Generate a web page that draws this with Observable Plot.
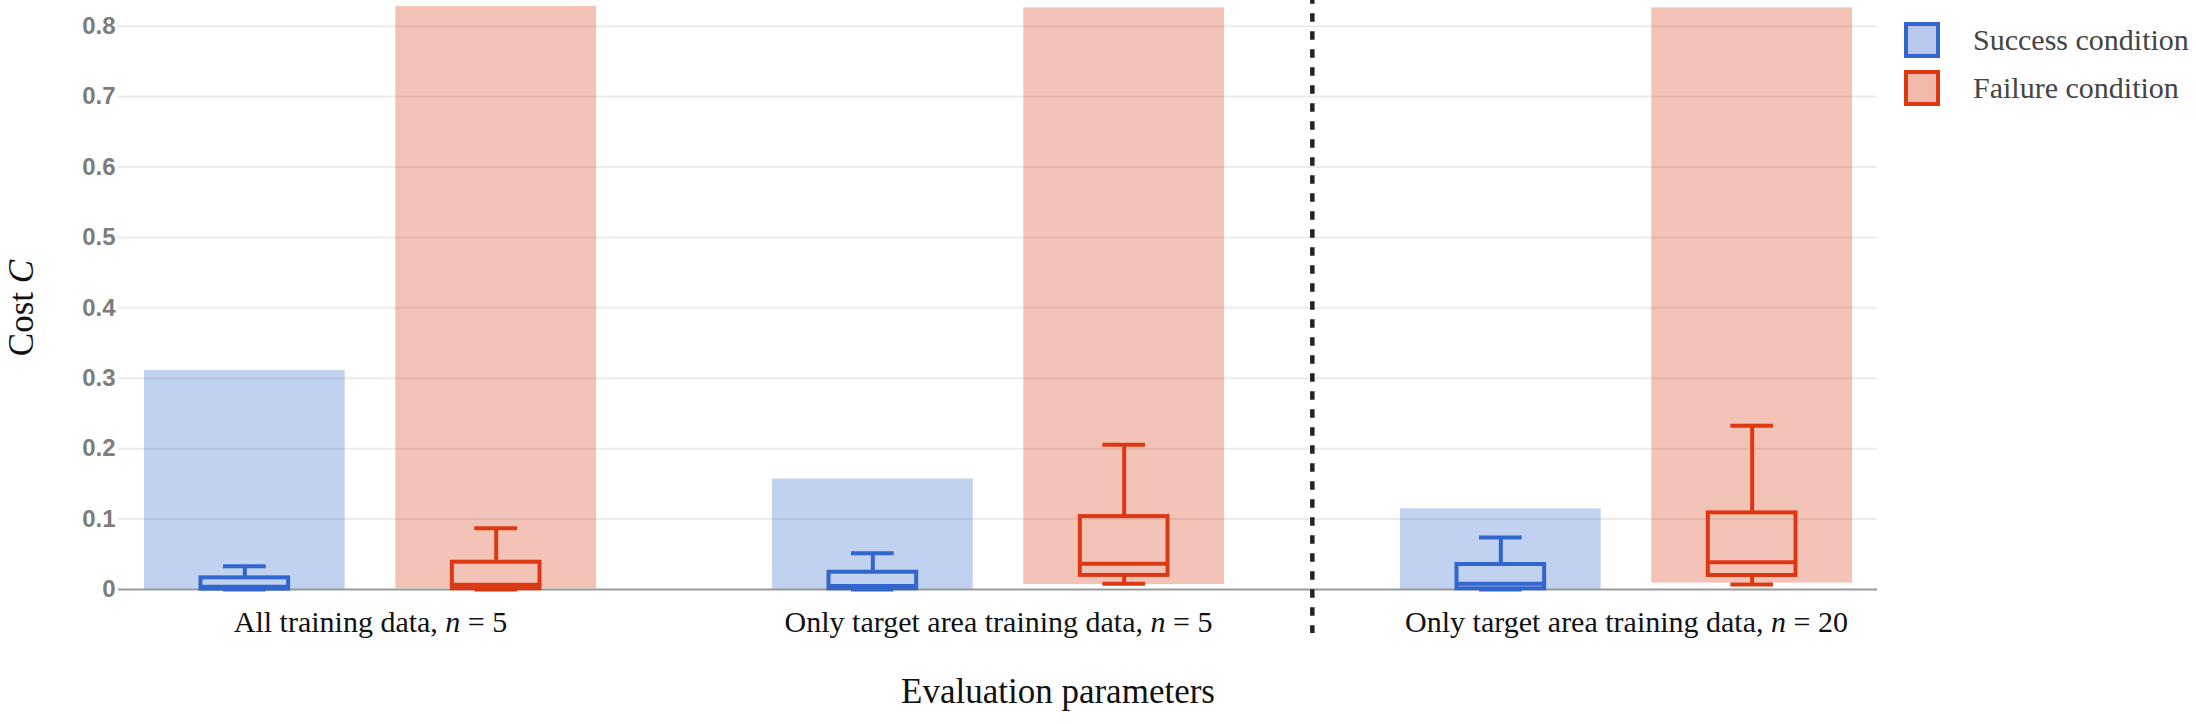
<!DOCTYPE html>
<html>
<head>
<meta charset="utf-8">
<script src="https://cdn.jsdelivr.net/npm/d3@7"></script>
<script src="https://cdn.jsdelivr.net/npm/@observablehq/plot@0.6"></script>
<style>
  body { margin: 0; background: #fff; }
  #wrap { position: relative; width: 2196px; height: 724px; }
  #legend { position: absolute; left: 1904px; top: 22px; font-family: "Liberation Serif", "Times New Roman", serif; font-size: 30px; color: #444; }
  .item { display: flex; align-items: center; height: 36px; margin-bottom: 12px; }
  .sw { box-sizing: border-box; width: 36px; height: 36px; border: 4px solid; margin-right: 33px; }
</style>
</head>
<body>
<div id="wrap"><div id="legend"></div></div>
<script>
// ---- data ----
const groups = ["All training data, n = 5", "Only target area training data, n = 5", "Only target area training data, n = 20"];
const conditions = ["Success condition", "Failure condition"];
const conditionColors = ["#3366cc", "#dc3912"];
const yTicks = [0, 0.1, 0.2, 0.3, 0.4, 0.5, 0.6, 0.7, 0.8];
const yTitle = "Cost C";
const xTitle = "Evaluation parameters";

// range bars (min..max)
const successMin = [0, 0, 0];
const successMax = [0.311, 0.157, 0.1145];
const failureMin = [0.001, 0.007, 0.009];
const failureMax = [0.828, 0.826, 0.826];

// box plots
const successLower  = [0, 0, 0];
const successQ1     = [0.0005, 0.001, 0.001];
const successMedian = [0.004, 0.005, 0.008];
const successQ3     = [0.0165, 0.0245, 0.0355];
const successUpper  = [0.033, 0.0515, 0.074];
const failureLower  = [0, 0.008, 0.0071];
const failureQ1     = [0.001, 0.02, 0.0199];
const failureMedian = [0.0067, 0.0364, 0.0387];
const failureQ3     = [0.0387, 0.1035, 0.1088];
const failureUpper  = [0.087, 0.2056, 0.2326];

// ---- table ----
const series = {
  "Success condition": {min: successMin, max: successMax, lo: successLower, q1: successQ1, med: successMedian, q3: successQ3, hi: successUpper},
  "Failure condition": {min: failureMin, max: failureMax, lo: failureLower, q1: failureQ1, med: failureMedian, q3: failureQ3, hi: failureUpper}
};
const rows = [];
conditions.forEach(c => groups.forEach((g, i) => {
  const s = series[c];
  rows.push({group: g, condition: c, min: s.min[i], max: s.max[i], lo: s.lo[i], q1: s.q1[i], med: s.med[i], q3: s.q3[i], hi: s.hi[i]});
}));

// ---- layout ----
const xRange = [55, 1940];
const B = (xRange[1] - xRange[0]) / groups.length;
const sub = d3.scaleBand().domain(conditions).range([0, B]).paddingInner(0.2).paddingOuter(0.35);
const boxW = 88, capW = 43, sw = 4;
function center(c) { return sub(c) + sub.bandwidth() / 2; }
function insets(c, w) { const m = center(c); return {insetLeft: m - w / 2, insetRight: B - m - w / 2}; }

const marks = [
  Plot.ruleY(yTicks.filter(d => d > 0), {y: d => d, stroke: "#ebebeb", strokeWidth: 2}),
  Plot.text(yTicks, {y: d => d, text: d => String(d), frameAnchor: "left", textAnchor: "end", dx: -3,
    fontFamily: "Liberation Sans, Arial, sans-serif", fontWeight: "bold", fontSize: 24, fill: "#7d7d7d"})
];
conditions.forEach((c, k) => {
  const data = rows.filter(r => r.condition === c);
  const col = conditionColors[k];
  marks.push(Plot.barY(data, {x: "group", y1: "min", y2: "max", fill: col, fillOpacity: 0.3, ...insets(c, sub.bandwidth())}));
});
marks.push(Plot.ruleY([0], {stroke: "#9a9a9a", strokeWidth: 2}));
conditions.forEach((c, k) => {
  const data = rows.filter(r => r.condition === c);
  const col = conditionColors[k];
  const dx = center(c) - B / 2;
  marks.push(
    Plot.ruleX(data, {x: "group", y1: "q3", y2: "hi", dx, stroke: col, strokeWidth: sw}),
    Plot.ruleX(data, {x: "group", y1: "lo", y2: "q1", dx, stroke: col, strokeWidth: sw}),
    Plot.tickY(data, {x: "group", y: "hi", stroke: col, strokeWidth: sw, ...insets(c, capW)}),
    Plot.tickY(data, {x: "group", y: "lo", stroke: col, strokeWidth: sw, ...insets(c, capW)}),
    Plot.barY(data, {x: "group", y1: "q1", y2: "q3", fill: "none", stroke: col, strokeWidth: sw, ...insets(c, boxW)}),
    Plot.tickY(data, {x: "group", y: "med", stroke: col, strokeWidth: sw, ...insets(c, boxW)})
  );
});
marks.push(
  Plot.ruleX([groups[2]], {x: d => d, dx: -B / 2, stroke: "#222", strokeWidth: 4.5, strokeDasharray: "8.5,9.5", strokeDashoffset: 4.7}),
  Plot.text(groups, {x: d => d, text: d => d, frameAnchor: "bottom", dy: -2, fontSize: 30, fill: "#111"}),
  Plot.text([xTitle], {text: d => d, frameAnchor: "bottom", textAnchor: "middle", dx: 60, dy: 69, fontSize: 35, fill: "#111"}),
  Plot.text([yTitle], {text: d => d, frameAnchor: "left", textAnchor: "middle", dx: -97, dy: -9, rotate: -90, fontSize: 35, fill: "#111"})
);

const chart = Plot.plot({
  width: 2196,
  height: 724,
  marginLeft: 118,
  marginRight: 319,
  marginTop: 0,
  marginBottom: 91,
  style: {fontFamily: "Liberation Serif, 'Times New Roman', serif", background: "white", overflow: "visible"},
  x: {type: "band", domain: groups, range: xRange, padding: 0, axis: null},
  y: {domain: [-0.0625, 0.8365], axis: null},
  marks
});

// italic math letters (n, C)
d3.select(chart).selectAll("text").each(function () {
  const t = this.textContent;
  let parts = null;
  let m = t.match(/^(.*, )(n)( = \d+)$/);
  if (m) parts = [[m[1], false], [m[2], true], [m[3], false]];
  else if (t === yTitle) parts = [["Cost ", false], ["C", true]];
  if (!parts) return;
  this.textContent = "";
  parts.forEach(([s, it]) => {
    const ts = document.createElementNS("http://www.w3.org/2000/svg", "tspan");
    ts.textContent = s;
    if (it) ts.setAttribute("font-style", "italic");
    this.appendChild(ts);
  });
});

const wrap = document.getElementById("wrap");
wrap.insertBefore(chart, wrap.firstChild);

const legend = d3.select("#legend");
conditions.forEach((c, k) => {
  const item = legend.append("div").attr("class", "item");
  const fill = d3.interpolateRgb("white", conditionColors[k])(0.35);
  item.append("div").attr("class", "sw").style("border-color", conditionColors[k]).style("background", fill);
  item.append("span").text(c);
});
</script>
</body>
</html>
